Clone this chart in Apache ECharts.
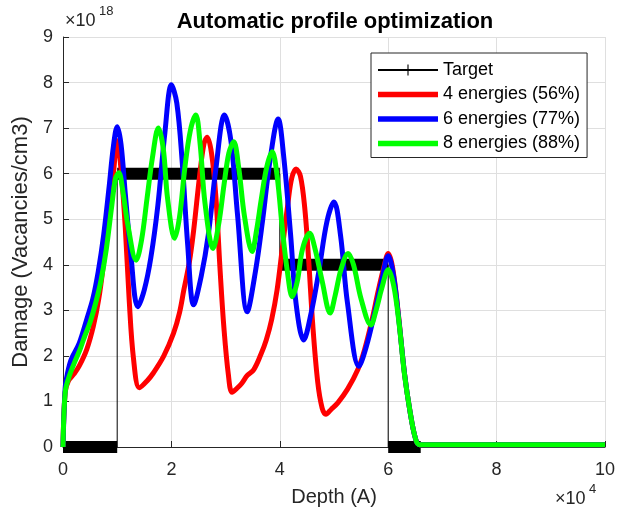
<!DOCTYPE html>
<html>
<head>
<meta charset="utf-8">
<script src="https://cdn.jsdelivr.net/npm/echarts@6/dist/echarts.min.js"></script>
<style>
  html, body { margin: 0; padding: 0; background: #fff; }
  #chart { width: 620px; height: 513px; }
</style>
</head>
<body>
<div id="chart"></div>
<script>
// depth in units of 1e4 A, damage in units of 1e18 vacancies/cm3
var targetX = [0, 1, 1, 4, 4, 6, 6, 6.6];
var targetY = [0, 0, 6, 6, 4, 4, 0, 0];

var red4X = [0, 0.04, 0.1, 0.2, 0.3, 0.44, 0.56, 0.66, 0.75, 0.85, 0.93, 1.0, 1.07, 1.15, 1.22, 1.3, 1.41, 1.55, 1.67, 1.86, 2.04, 2.15, 2.23, 2.33, 2.41, 2.52, 2.6, 2.66, 2.74, 2.82, 2.9, 2.97, 3.05, 3.12, 3.22, 3.3, 3.4, 3.52, 3.65, 3.75, 3.85, 3.95, 4.05, 4.15, 4.22, 4.3, 4.38, 4.46, 4.53, 4.61, 4.7, 4.78, 4.85, 4.95, 5.07, 5.25, 5.44, 5.56, 5.69, 5.82, 5.92, 6.0, 6.08, 6.18, 6.3, 6.4, 6.5, 6.58, 10];
var red4Y = [0, 1.2, 1.45, 1.6, 1.78, 2.15, 2.65, 3.25, 4.05, 5.1, 6.0, 6.72, 6.1, 4.8, 3.25, 1.95, 1.3, 1.45, 1.63, 2.0, 2.5, 2.95, 3.45, 4.05, 4.75, 5.95, 6.65, 6.8, 6.45, 5.5, 3.85, 2.6, 1.6, 1.2, 1.3, 1.4, 1.57, 1.7, 2.03, 2.35, 2.8, 3.45, 4.4, 5.35, 5.9, 6.1, 5.95, 5.25, 4.15, 2.65, 1.42, 0.86, 0.72, 0.83, 0.97, 1.27, 1.7, 2.12, 2.73, 3.45, 3.95, 4.25, 3.95, 3.0, 1.62, 0.8, 0.2, 0.05, 0.05];

var blue6X = [0, 0.04, 0.08, 0.15, 0.3, 0.45, 0.55, 0.65, 0.75, 0.85, 0.93, 1.0, 1.07, 1.15, 1.25, 1.38, 1.5, 1.62, 1.75, 1.88, 2.0, 2.1, 2.2, 2.3, 2.41, 2.55, 2.68, 2.82, 2.98, 3.1, 3.22, 3.4, 3.55, 3.68, 3.82, 3.97, 4.07, 4.2, 4.3, 4.44, 4.58, 4.72, 4.87, 5.0, 5.12, 5.25, 5.46, 5.6, 5.75, 5.88, 6.0, 6.1, 6.2, 6.3, 6.4, 6.5, 6.58, 10];
var blue6Y = [0, 1.3, 1.6, 1.92, 2.28, 2.85, 3.25, 3.85, 4.65, 5.7, 6.6, 7.03, 6.65, 5.55, 4.25, 3.08, 3.45, 4.15, 5.3, 6.9, 7.95, 7.55, 6.25, 4.45, 3.12, 3.75, 4.65, 6.1, 7.29, 6.7, 5.1, 2.97, 3.85, 4.95, 6.3, 7.2, 6.4, 4.65, 3.15, 2.35, 2.95, 3.85, 4.95, 5.38, 4.65, 3.15, 1.77, 2.22, 2.95, 3.65, 4.2, 3.75, 2.75, 1.62, 0.8, 0.2, 0.05, 0.05];

var green8X = [0, 0.04, 0.1, 0.2, 0.31, 0.4, 0.5, 0.6, 0.7, 0.8, 0.9, 0.97, 1.03, 1.1, 1.2, 1.35, 1.45, 1.55, 1.65, 1.76, 1.85, 1.93, 2.06, 2.15, 2.25, 2.35, 2.45, 2.53, 2.62, 2.77, 2.88, 2.97, 3.06, 3.15, 3.24, 3.35, 3.49, 3.57, 3.66, 3.76, 3.86, 3.95, 4.05, 4.14, 4.23, 4.32, 4.42, 4.55, 4.65, 4.78, 4.93, 5.02, 5.13, 5.26, 5.36, 5.5, 5.68, 5.78, 5.88, 6.0, 6.1, 6.2, 6.3, 6.4, 6.5, 6.58, 10];
var green8Y = [0, 1.2, 1.5, 1.82, 2.13, 2.43, 2.74, 3.15, 3.65, 4.35, 5.3, 5.9, 6.02, 5.65, 4.85, 4.1, 4.55, 5.45, 6.35, 7.0, 6.55, 5.45, 4.58, 5.05, 6.15, 6.95, 7.29, 6.65, 5.35, 4.36, 4.95, 5.75, 6.45, 6.7, 6.15, 5.05, 4.29, 4.75, 5.45, 6.15, 6.48, 5.95, 4.75, 3.85, 3.3, 3.62, 4.35, 4.69, 4.35, 3.65, 2.94, 3.32, 3.9, 4.25, 4.0, 3.25, 2.68, 3.02, 3.48, 3.89, 3.55, 2.72, 1.6, 0.8, 0.2, 0.05, 0.05];

var xTicks = [0, 2, 4, 6, 8, 10];
var yTicks = [0, 1, 2, 3, 4, 5, 6, 7, 8, 9];

function pairs(xs, ys) {
  return xs.map(function (x, i) { return [x, ys[i]]; });
}

var FONT = "Liberation Sans";
var TXT = "#262626";

var chart = echarts.init(document.getElementById("chart"));

// thick parts of the target: the flat steps
var bandSeries = [];
for (var i = 0; i < targetX.length - 1; i++) {
  if (targetY[i] === targetY[i + 1]) {
    bandSeries.push({
      name: "band" + i,
      type: "line",
      data: [[targetX[i], targetY[i]], [targetX[i + 1], targetY[i + 1]]],
      symbol: "none",
      silent: true,
      lineStyle: { color: "#000", width: 12, cap: "butt" },
      z: 1
    });
  }
}

var plusPath = "path://M0,4.5L10,4.5L10,5.5L0,5.5Z M4.5,0L5.5,0L5.5,10L4.5,10Z";
var barIcon = "path://M0,0L60,0L60,5.5L0,5.5Z";

function curve(name, xs, ys, color, z) {
  return {
    name: name,
    type: "line",
    data: pairs(xs, ys),
    smooth: 0.35,
    symbol: "none",
    itemStyle: { color: color },
    lineStyle: { color: color, width: 5 },
    z: z
  };
}

var option = {
  animation: false,
  backgroundColor: "#fff",
  textStyle: { fontFamily: FONT },
  title: {
    text: "Automatic profile optimization",
    left: 330,
    textAlign: "center",
    top: 6,
    textStyle: { fontFamily: FONT, fontSize: 22, fontWeight: "bold", color: "#000" }
  },
  graphic: [
    { type: "text", left: 65, top: 12, style: { text: "\u00d710", fontFamily: FONT, fontSize: 18, fill: TXT } },
    { type: "text", left: 99, top: 5, style: { text: "18", fontFamily: FONT, fontSize: 13, fill: TXT } },
    { type: "text", left: 555, top: 490, style: { text: "\u00d710", fontFamily: FONT, fontSize: 18, fill: TXT } },
    { type: "text", left: 589, top: 483, style: { text: "4", fontFamily: FONT, fontSize: 13, fill: TXT } }
  ],
  legend: {
    data: [
      { name: "Target" },
      { name: "4 energies (56%)", icon: barIcon, symbolKeepAspect: true },
      { name: "6 energies (77%)", icon: barIcon, symbolKeepAspect: true },
      { name: "8 energies (88%)", icon: barIcon, symbolKeepAspect: true }
    ],
    orient: "vertical",
    left: 371,
    top: 53,
    padding: [8, 7, 5, 6],
    itemGap: 6.5,
    itemWidth: 60,
    itemHeight: 14,
    backgroundColor: "#fff",
    borderColor: TXT,
    borderWidth: 1,
    borderRadius: 0,
    textStyle: { fontFamily: FONT, fontSize: 18, color: "#000" }
  },
  grid: { left: 63, right: 15, top: 37, bottom: 66 },
  xAxis: {
    type: "value",
    min: 0,
    max: 10,
    interval: 2,
    name: "Depth (A)",
    nameLocation: "middle",
    nameGap: 40,
    nameTextStyle: { fontFamily: FONT, fontSize: 20, color: TXT },
    axisLine: { show: true, onZero: false, lineStyle: { color: TXT, width: 1 } },
    axisTick: { show: true, inside: true, length: 6, lineStyle: { color: TXT } },
    axisLabel: {
      fontFamily: FONT, fontSize: 18, color: TXT, margin: 14,
      formatter: function (v) { return xTicks.indexOf(v) >= 0 ? String(v) : ""; }
    },
    splitLine: { show: true, lineStyle: { color: "#dfdfdf", width: 1 } }
  },
  yAxis: {
    type: "value",
    min: 0,
    max: 9,
    interval: 1,
    name: "Damage (Vacancies/cm3)",
    nameLocation: "middle",
    nameGap: 27,
    nameTextStyle: { fontFamily: FONT, fontSize: 22, color: TXT },
    axisLine: { show: true, lineStyle: { color: TXT, width: 1 } },
    axisTick: { show: true, inside: true, length: 6, lineStyle: { color: TXT } },
    axisLabel: {
      fontFamily: FONT, fontSize: 18, color: TXT, margin: 10,
      formatter: function (v) { return yTicks.indexOf(v) >= 0 ? String(v) : ""; }
    },
    splitLine: { show: true, lineStyle: { color: "#dfdfdf", width: 1 } }
  },
  series: bandSeries.concat([
    {
      name: "Target",
      type: "line",
      data: pairs(targetX, targetY),
      symbol: plusPath,
      symbolSize: 11,
      showSymbol: false,
      itemStyle: { color: "#000" },
      lineStyle: { color: "#000", width: 1 },
      z: 2
    },
    curve("4 energies (56%)", red4X, red4Y, "#ff0000", 3),
    curve("6 energies (77%)", blue6X, blue6Y, "#0000ff", 4),
    curve("8 energies (88%)", green8X, green8Y, "#00ff00", 5)
  ])
};

chart.setOption(option);
</script>
</body>
</html>
